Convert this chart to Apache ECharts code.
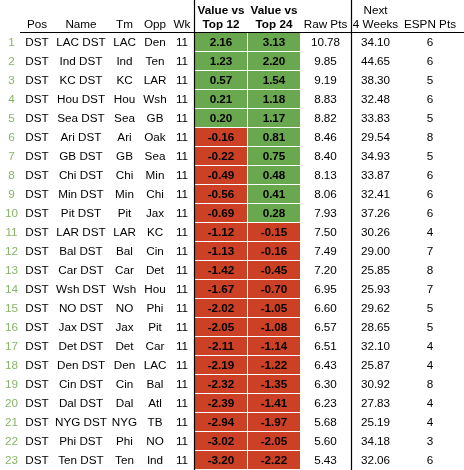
<!DOCTYPE html>
<html>
<head>
<meta charset="utf-8">
<script src="https://cdn.jsdelivr.net/npm/echarts@6/dist/echarts.min.js"></script>
<style>
html,body{margin:0;padding:0;background:#fff;}
#c{width:464px;height:470px;}
</style>
</head>
<body>
<div id="c"></div>
<script>
var headers = ["Pos", "Name", "Tm", "Opp", "Wk", "Value vs\nTop 12", "Value vs\nTop 24", "Raw Pts", "Next\n4 Weeks", "ESPN Pts"];
var pos = ["DST","DST","DST","DST","DST","DST","DST","DST","DST","DST","DST","DST","DST","DST","DST","DST","DST","DST","DST","DST","DST","DST","DST"];
var names = ["LAC DST","Ind DST","KC DST","Hou DST","Sea DST","Ari DST","GB DST","Chi DST","Min DST","Pit DST","LAR DST","Bal DST","Car DST","Wsh DST","NO DST","Jax DST","Det DST","Den DST","Cin DST","Dal DST","NYG DST","Phi DST","Ten DST"];
var teams = ["LAC","Ind","KC","Hou","Sea","Ari","GB","Chi","Min","Pit","LAR","Bal","Car","Wsh","NO","Jax","Det","Den","Cin","Dal","NYG","Phi","Ten"];
var opps = ["Den","Ten","LAR","Wsh","GB","Oak","Sea","Min","Chi","Jax","KC","Cin","Det","Hou","Phi","Pit","Car","LAC","Bal","Atl","TB","NO","Ind"];
var weeks = [11,11,11,11,11,11,11,11,11,11,11,11,11,11,11,11,11,11,11,11,11,11,11];
var vsTop12 = [2.16,1.23,0.57,0.21,0.20,-0.16,-0.22,-0.49,-0.56,-0.69,-1.12,-1.13,-1.42,-1.67,-2.02,-2.05,-2.11,-2.19,-2.32,-2.39,-2.94,-3.02,-3.20];
var vsTop24 = [3.13,2.20,1.54,1.18,1.17,0.81,0.75,0.48,0.41,0.28,-0.15,-0.16,-0.45,-0.70,-1.05,-1.08,-1.14,-1.22,-1.35,-1.41,-1.97,-2.05,-2.22];
var rawPts = [10.78,9.85,9.19,8.83,8.82,8.46,8.40,8.13,8.06,7.93,7.50,7.49,7.20,6.95,6.60,6.57,6.51,6.43,6.30,6.23,5.68,5.60,5.43];
var next4 = [34.10,44.65,38.30,32.48,33.83,29.54,34.93,33.87,32.41,37.26,30.26,29.00,25.85,25.93,29.62,28.65,32.10,25.87,30.92,27.83,25.19,34.18,32.06];
var espn = [6,6,5,6,5,8,5,6,6,6,4,7,8,7,5,5,4,4,8,4,4,3,6];

// layout (x positions in axis units = pixels)
var L = {
  rankX: 11.5, posX: 37, nameX: 81, tmX: 124.5, oppX: 155, wkX: 182,
  c1: [195, 247], c2: [248, 300], rawX: 325.5, nextX: 375.5, espnX: 430,
  font: '"Liberation Sans", Arial, Helvetica, sans-serif', size: 11.7
};
var GREEN = '#6aa84f', RED = '#cc4125', RANKC = '#88b469';

var rows = names.map(function (n, i) { return String(i + 1); });
var data = rows.map(function (r, i) { return [0, i, vsTop12[i], vsTop24[i]]; });

function txt(x, y, s, bold, color) {
  return {
    type: 'text', silent: true,
    style: {
      x: x, y: y, text: s, align: 'center', verticalAlign: 'middle',
      fill: color || '#000', font: (bold ? 'bold ' : '') + L.size + 'px ' + L.font
    }
  };
}

var chart = echarts.init(document.getElementById('c'), null, {renderer: 'canvas'});
var colXs = [L.posX, L.nameX, L.tmX, L.oppX, L.wkX, (L.c1[0] + L.c1[1]) / 2, (L.c2[0] + L.c2[1]) / 2, L.rawX, L.nextX, L.espnX];
var graphics = [];
headers.forEach(function (h, k) {
  var parts = h.split('\n');
  var bold = k === 5 || k === 6;
  if (parts.length === 2) {
    graphics.push(txt(colXs[k], 10.5, parts[0], bold));
    graphics.push(txt(colXs[k], 24.5, parts[1], bold));
  } else {
    graphics.push(txt(colXs[k], 24.5, parts[0], bold));
  }
});
graphics = graphics.map(function (g) { g.z = 10; return g; });
graphics.push({type: 'line', z: 20, silent: true, shape: {x1: 20, y1: 32.5, x2: 464, y2: 32.5}, style: {stroke: '#000', lineWidth: 1}});
graphics.push({type: 'line', z: 20, silent: true, shape: {x1: 194.5, y1: 0, x2: 194.5, y2: 470}, style: {stroke: '#000', lineWidth: 1.2}});
graphics.push({type: 'line', z: 20, silent: true, shape: {x1: 351.5, y1: 0, x2: 351.5, y2: 470}, style: {stroke: '#000', lineWidth: 1.2}});

chart.setOption({
  animation: false,
  backgroundColor: '#fff',
  grid: {left: 0, right: 0, top: 33, bottom: 0},
  xAxis: {type: 'value', min: 0, max: 464, show: false},
  yAxis: {type: 'category', data: rows, inverse: true, show: false},
  graphic: graphics,
  series: [{
    type: 'custom',
    data: data,
    encode: {x: 0, y: 1},
    renderItem: function (params, api) {
      var i = params.dataIndex;
      var yc = api.coord([0, i])[1];
      var band = api.size([0, 1])[1];
      var top = yc - band / 2;
      var ch = [];
      function cell(c, v) {
        var x0 = api.coord([c[0], i])[0], x1 = api.coord([c[1], i])[0];
        ch.push({type: 'rect', shape: {x: x0, y: top, width: x1 - x0, height: band - 1},
          style: {fill: v >= 0 ? GREEN : RED}});
        ch.push(txt((x0 + x1) / 2, yc, v.toFixed(2), true));
      }
      cell(L.c1, api.value(2));
      cell(L.c2, api.value(3));
      function X(v) { return api.coord([v, i])[0]; }
      ch.push(txt(X(L.rankX), yc, rows[i], false, RANKC));
      ch.push(txt(X(L.posX), yc, pos[i]));
      ch.push(txt(X(L.nameX), yc, names[i]));
      ch.push(txt(X(L.tmX), yc, teams[i]));
      ch.push(txt(X(L.oppX), yc, opps[i]));
      ch.push(txt(X(L.wkX), yc, String(weeks[i])));
      ch.push(txt(X(L.rawX), yc, rawPts[i].toFixed(2)));
      ch.push(txt(X(L.nextX), yc, next4[i].toFixed(2)));
      ch.push(txt(X(L.espnX), yc, String(espn[i])));
      return {type: 'group', children: ch};
    }
  }]
});
</script>
</body>
</html>
